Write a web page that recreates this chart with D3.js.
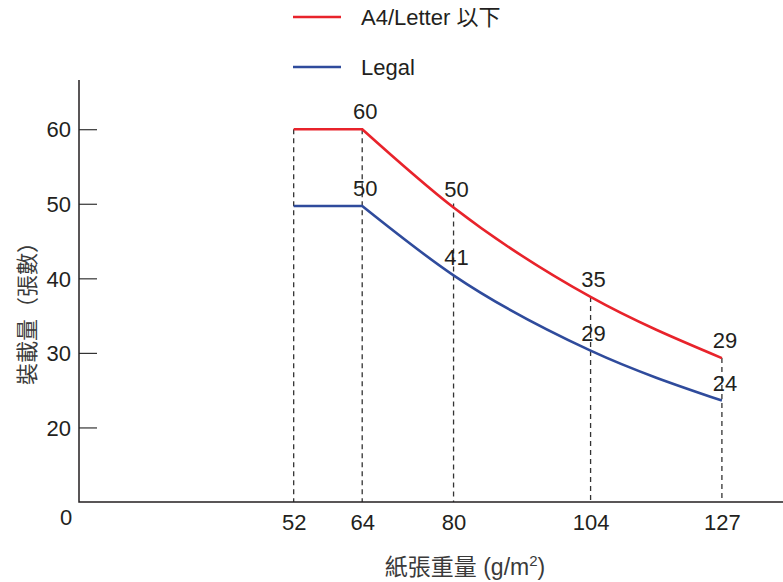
<!DOCTYPE html>
<html>
<head>
<meta charset="utf-8">
<script src="https://cdn.jsdelivr.net/npm/d3@7"></script>
<style>
	body { margin: 0; background: #ffffff; }
	text { font-family: "Liberation Sans", Arial, "Noto Sans CJK TC", sans-serif; fill: #231f20; }
	.cjk { font-family: "Liberation Sans", "Noto Sans CJK TC", sans-serif; fill: #3a3a3a; }
</style>
</head>
<body>
<svg id="chart"></svg>
<script>
var weights = [52, 64, 80, 104, 127];
var a4Values = [60, 60, 49.5, 37.5, 29.3];
var legalValues = [49.7, 49.7, 40.4, 30.3, 23.6];
var a4Labels = ["", "60", "50", "35", "29"];
var legalLabels = ["", "50", "41", "29", "24"];
var yTicks = [20, 30, 40, 50, 60];
var seriesNames = ["A4/Letter 以下", "Legal"];
var seriesColors = ["#e8232b", "#2f4b9c"];

var WIDTH = 783, HEIGHT = 582;
var margin = {top: 80, right: 0, bottom: 80, left: 79};

var svg = d3.select("#chart")
	.attr("width", WIDTH)
	.attr("height", HEIGHT);

var x = d3.scaleLinear()
	.domain([14.4, 137.7])
	.range([margin.left, WIDTH - margin.right]);

var y = d3.scaleLinear()
	.domain([10, 66.6])
	.range([HEIGHT - margin.bottom, margin.top]);

// dashed guides from the upper curve down to the axis
svg.append("g").selectAll("line")
	.data(weights)
	.enter().append("line")
	.attr("x1", function(d) { return x(d); })
	.attr("x2", function(d) { return x(d); })
	.attr("y1", function(d, i) { return y(a4Values[i]) - (i == 2 ? 4 : 0); })
	.attr("y2", y(10))
	.style("stroke", "#333333")
	.style("stroke-width", 1.3)
	.style("stroke-dasharray", "5,4");

// axes
var yAxis = svg.append("g")
	.attr("transform", "translate(" + margin.left + ",0)")
	.call(d3.axisRight(y).tickValues(yTicks).tickSize(18).tickFormat(d3.format("d")));
yAxis.select(".domain").remove();
yAxis.selectAll(".tick line").style("stroke", "#333333").style("stroke-width", 1.2);
yAxis.selectAll(".tick text")
	.attr("x", -8)
	.attr("dy", "0.35em")
	.style("text-anchor", "end")
	.style("font-size", "22px");

var xAxis = svg.append("g")
	.attr("transform", "translate(0," + y(10) + ")")
	.call(d3.axisBottom(x).tickValues(weights).tickSize(0).tickPadding(12));
xAxis.select(".domain").remove();
xAxis.selectAll(".tick text")
	.attr("dy", "0.71em")
	.style("font-size", "22px");

svg.append("path")
	.attr("d", "M" + x.range()[0] + "," + y.range()[1] + "V" + y.range()[0] + "H" + x.range()[1])
	.style("fill", "none")
	.style("stroke", "#231f20")
	.style("stroke-width", 1.5);

svg.append("text")
	.attr("x", margin.left - 13)
	.attr("y", y(10) + 23)
	.style("text-anchor", "middle")
	.style("font-size", "22px")
	.text("0");

// series lines: flat part straight, the rest smoothed
var flatLine = d3.line()
	.x(function(d) { return x(d[0]); })
	.y(function(d) { return y(d[1]); });
var curveLine = d3.line()
	.x(function(d) { return x(d[0]); })
	.y(function(d) { return y(d[1]); })
	.curve(d3.curveMonotoneX);

[a4Values, legalValues].forEach(function(values, s) {
	var pts = weights.map(function(w, i) { return [w, values[i]]; });
	svg.append("path")
		.attr("d", flatLine(pts.slice(0, 2)) + curveLine(pts.slice(1)).replace(/^M/, "L"))
		.style("fill", "none")
		.style("stroke", seriesColors[s])
		.style("stroke-width", 2.6);
});

// value labels
[[a4Values, a4Labels], [legalValues, legalLabels]].forEach(function(pair) {
	svg.append("g").selectAll("text")
		.data(pair[1])
		.enter().append("text")
		.attr("x", function(d, i) { return x(weights[i]) + 3; })
		.attr("y", function(d, i) { return y(pair[0][i]) - 10; })
		.style("text-anchor", "middle")
		.style("font-size", "22px")
		.text(function(d) { return d; });
});

// legend
var legend = svg.append("g").selectAll("g")
	.data(seriesNames)
	.enter().append("g")
	.attr("transform", function(d, i) { return "translate(293," + (17 + i * 50) + ")"; });
legend.append("line")
	.attr("x2", 48)
	.style("stroke", function(d, i) { return seriesColors[i]; })
	.style("stroke-width", 2.6);
legend.append("text")
	.attr("x", 68)
	.attr("dy", "0.35em")
	.style("font-size", "22px")
	.text(function(d) { return d; });

// axis titles
svg.append("text")
	.attr("class", "cjk")
	.attr("transform", "translate(35,308) rotate(-90)")
	.style("text-anchor", "middle")
	.style("font-size", "22px")
	.text("裝載量（張數）");

var xTitle = svg.append("text")
	.attr("class", "cjk")
	.attr("x", 465)
	.attr("y", 575)
	.style("text-anchor", "middle")
	.style("font-size", "23px");
xTitle.append("tspan").text("紙張重量 (g/m");
xTitle.append("tspan").attr("dy", -9).style("font-size", "15px").text("2");
xTitle.append("tspan").attr("dy", 9).text(")");
</script>
</body>
</html>
